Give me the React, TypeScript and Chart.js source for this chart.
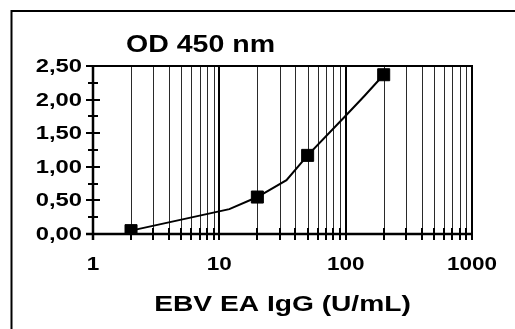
import React, { useEffect, useRef } from "react";
import { Chart, registerables } from "chart.js";

Chart.register(...registerables);

// ---- data ----
const measuredX = [2, 20, 50, 200];
const measuredY = [0.05, 0.55, 1.17, 2.37];
const curveX = [2, 12, 20, 34, 50, 100, 140, 200];
const curveY = [0.05, 0.37, 0.55, 0.8, 1.17, 1.76, 2.05, 2.37];
const xGridValues = [
  1, 2, 3, 4, 5, 6, 7, 8, 9, 10, 20, 30, 40, 50, 60, 70, 80, 90, 100, 200, 300,
  400, 500, 600, 700, 800, 900, 1000,
];
const xLabelValues = [1, 10, 100, 1000];
const xLabels = ["1", "10", "100", "1000"];
const yLabelValues = [0, 0.5, 1, 1.5, 2, 2.5];
const yLabels = ["0,00", "0,50", "1,00", "1,50", "2,00", "2,50"];
const yMinorValues = [0.25, 0.75, 1.25, 1.75, 2.25];
const chartTitle = "OD 450 nm";
const xTitle = "EBV EA IgG (U/mL)";

const FONT = '"Liberation Sans", Arial, Helvetica, sans-serif';

function drawText(
  ctx: CanvasRenderingContext2D,
  text: string,
  x: number,
  y: number,
  size: number,
  sx: number,
  align: CanvasTextAlign,
  baseline: CanvasTextBaseline
) {
  ctx.save();
  ctx.translate(x, y);
  ctx.scale(sx, 1);
  ctx.font = `bold ${size}px ${FONT}`;
  ctx.fillStyle = "#000";
  ctx.textAlign = align;
  ctx.textBaseline = baseline;
  ctx.fillText(text, 0, 0);
  ctx.restore();
}

const decorPlugin = {
  id: "decor",
  beforeDatasetsDraw(chart: any) {
    const ctx: CanvasRenderingContext2D = chart.ctx;
    const { left, right, top, bottom } = chart.chartArea;
    const xs = chart.scales.x;
    const ys = chart.scales.y;
    ctx.save();
    ctx.fillStyle = "#fff";
    ctx.fillRect(0, 0, chart.width, chart.height);

    // outer frame (top and left)
    ctx.strokeStyle = "#000";
    ctx.lineWidth = 2;
    ctx.beginPath();
    ctx.moveTo(11.5, chart.height);
    ctx.lineTo(11.5, 11);
    ctx.lineTo(chart.width, 11);
    ctx.stroke();

    // vertical grid lines
    xGridValues.forEach((v) => {
      const px = Math.round(xs.getPixelForValue(v));
      const major = v === 10 || v === 100;
      ctx.strokeStyle = major ? "#000" : "#2a2a2a";
      ctx.lineWidth = major ? 2 : 1;
      ctx.beginPath();
      const off = major ? 0 : 0.5;
      ctx.moveTo(px + off, top);
      ctx.lineTo(px + off, bottom);
      ctx.stroke();
    });

    // plot border
    ctx.strokeStyle = "#000";
    ctx.lineWidth = 2;
    ctx.beginPath();
    ctx.moveTo(left, top);
    ctx.lineTo(right, top);
    ctx.lineTo(right, bottom);
    ctx.stroke();
    ctx.lineWidth = 2.5;
    ctx.beginPath();
    ctx.moveTo(left, top - 1);
    ctx.lineTo(left, bottom + 6);
    ctx.moveTo(left - 7, bottom);
    ctx.lineTo(right + 1, bottom);
    ctx.stroke();

    // x ticks crossing axis
    ctx.lineWidth = 2;
    xGridValues.forEach((v) => {
      const px = Math.round(xs.getPixelForValue(v));
      ctx.beginPath();
      ctx.moveTo(px, bottom - 6);
      ctx.lineTo(px, bottom + 6);
      ctx.stroke();
    });
    // y ticks crossing axis
    yLabelValues.forEach((v) => {
      const py = Math.round(ys.getPixelForValue(v));
      ctx.beginPath();
      ctx.moveTo(left - 7, py);
      ctx.lineTo(left + 7, py);
      ctx.stroke();
    });
    yMinorValues.forEach((v) => {
      const py = Math.round(ys.getPixelForValue(v));
      ctx.beginPath();
      ctx.moveTo(left - 5, py);
      ctx.lineTo(left + 5, py);
      ctx.stroke();
    });

    // labels
    yLabelValues.forEach((v, i) => {
      const py = ys.getPixelForValue(v);
      drawText(ctx, yLabels[i], left - 11, py + 1, 18, 1.32, "right", "middle");
    });
    xLabelValues.forEach((v, i) => {
      const px = xs.getPixelForValue(v);
      drawText(ctx, xLabels[i], px, bottom + 31, 18, 1.25, "center", "middle");
    });
    drawText(ctx, xTitle, (left + right) / 2, 311, 22, 1.28, "center", "alphabetic");
    drawText(ctx, chartTitle, 126, 52, 23, 1.24, "left", "alphabetic");
    ctx.restore();
  },
};

export default function App() {
  const ref = useRef<HTMLCanvasElement>(null);
  useEffect(() => {
    if (!ref.current) return;
    const chart = new Chart(ref.current, {
      type: "scatter",
      data: {
        datasets: [
          {
            data: curveX.map((x, i) => ({ x, y: curveY[i] })),
            showLine: true,
            borderColor: "#000",
            borderWidth: 2,
            pointRadius: 0,
            tension: 0,
          },
          {
            data: measuredX.map((x, i) => ({ x, y: measuredY[i] })),
            showLine: false,
            pointStyle: "rect",
            pointRadius: 8.5,
            backgroundColor: "#000",
            borderColor: "#000",
            borderWidth: 1,
          },
        ],
      },
      options: {
        responsive: false,
        animation: false,
        events: [],
        layout: { padding: { left: 93, top: 66, right: 43, bottom: 95 } },
        plugins: {
          legend: { display: false },
          tooltip: { enabled: false },
          title: { display: false },
        },
        scales: {
          x: { type: "logarithmic", min: 1, max: 1000, display: false },
          y: { type: "linear", min: 0, max: 2.5, display: false },
        },
      },
      plugins: [decorPlugin],
    });
    return () => chart.destroy();
  }, []);
  return (
    <div style={{ position: "fixed", left: 0, top: 0, width: 515, height: 329, background: "#fff" }}>
      <canvas ref={ref} width={515} height={329} />
    </div>
  );
}
